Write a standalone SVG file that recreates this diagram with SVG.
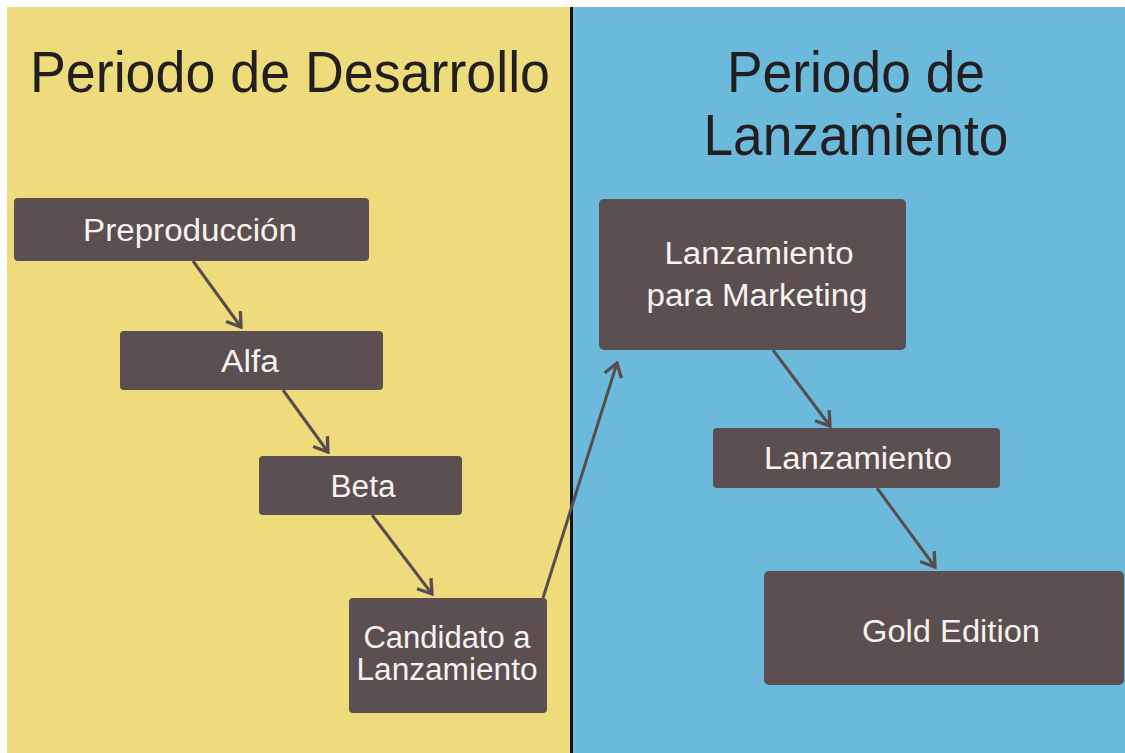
<svg xmlns="http://www.w3.org/2000/svg" width="1125" height="753" viewBox="0 0 1125 753">
<defs>
<style>
.box{fill:#5b4f51;}
.bt{fill:#f7f2ef;font-family:"Liberation Sans",Arial,sans-serif;font-size:31px;text-anchor:middle;}
.title{fill:#231f20;font-family:"Liberation Sans",Arial,sans-serif;font-size:57px;text-anchor:middle;}
.conn{stroke:#574d4e;stroke-width:3;fill:none;}
</style>
<marker id="arr" viewBox="0 0 20 20" refX="18" refY="10" markerWidth="22" markerHeight="22" markerUnits="userSpaceOnUse" orient="auto">
<path d="M6,2 L18,10 L6,18" fill="none" stroke="#574d4e" stroke-width="3"/>
</marker>
</defs>
<rect x="0" y="0" width="1125" height="753" fill="#ffffff"/>
<rect x="7" y="7" width="565" height="746" fill="#eedb7b"/>
<rect x="572" y="7" width="553" height="746" fill="#6bbadb"/>
<line x1="571.5" y1="7" x2="571.5" y2="753" stroke="#111" stroke-width="3"/>
<g id="titles">
<text class="title" x="290" y="92" textLength="520" lengthAdjust="spacingAndGlyphs">Periodo de Desarrollo</text>
<text class="title" x="856" y="92" textLength="258" lengthAdjust="spacingAndGlyphs">Periodo de</text>
<text class="title" x="856" y="155" textLength="305" lengthAdjust="spacingAndGlyphs">Lanzamiento</text>
</g>
<g id="connectors">
<line class="conn" x1="193" y1="261" x2="241" y2="327" marker-end="url(#arr)"/>
<line class="conn" x1="283" y1="390" x2="328" y2="452" marker-end="url(#arr)"/>
<line class="conn" x1="372" y1="515" x2="432" y2="594" marker-end="url(#arr)"/>
<line class="conn" x1="543" y1="598" x2="617" y2="363" marker-end="url(#arr)"/>
<line class="conn" x1="773" y1="350" x2="830" y2="426" marker-end="url(#arr)"/>
<line class="conn" x1="877" y1="488" x2="935" y2="567" marker-end="url(#arr)"/>
</g>
<g id="preproduccion">
<rect class="box" x="14" y="198" width="355" height="63" rx="4"/>
<text class="bt" x="190" y="241" textLength="214" lengthAdjust="spacingAndGlyphs">Preproducción</text>
</g>
<g id="alfa">
<rect class="box" x="120" y="331" width="263" height="59" rx="4"/>
<text class="bt" x="250" y="372" textLength="58" lengthAdjust="spacingAndGlyphs">Alfa</text>
</g>
<g id="beta">
<rect class="box" x="259" y="456" width="203" height="59" rx="4"/>
<text class="bt" x="363" y="497" textLength="65" lengthAdjust="spacingAndGlyphs">Beta</text>
</g>
<g id="candidato">
<rect class="box" x="349" y="598" width="198" height="115" rx="4"/>
<text class="bt" x="447" y="648" font-size="27" textLength="167" lengthAdjust="spacingAndGlyphs">Candidato a</text>
<text class="bt" x="447" y="680" font-size="27" textLength="181" lengthAdjust="spacingAndGlyphs">Lanzamiento</text>
</g>
<g id="marketing">
<rect class="box" x="599" y="199" width="307" height="151" rx="5"/>
<text class="bt" x="759" y="264" textLength="189" lengthAdjust="spacingAndGlyphs">Lanzamiento</text>
<text class="bt" x="757" y="306" textLength="221" lengthAdjust="spacingAndGlyphs">para Marketing</text>
</g>
<g id="lanzamiento">
<rect class="box" x="713" y="428" width="287" height="60" rx="4"/>
<text class="bt" x="858" y="469" textLength="188" lengthAdjust="spacingAndGlyphs">Lanzamiento</text>
</g>
<g id="gold">
<rect class="box" x="764" y="571" width="360" height="114" rx="5"/>
<text class="bt" x="951" y="642" textLength="178" lengthAdjust="spacingAndGlyphs">Gold Edition</text>
</g>
</svg>
